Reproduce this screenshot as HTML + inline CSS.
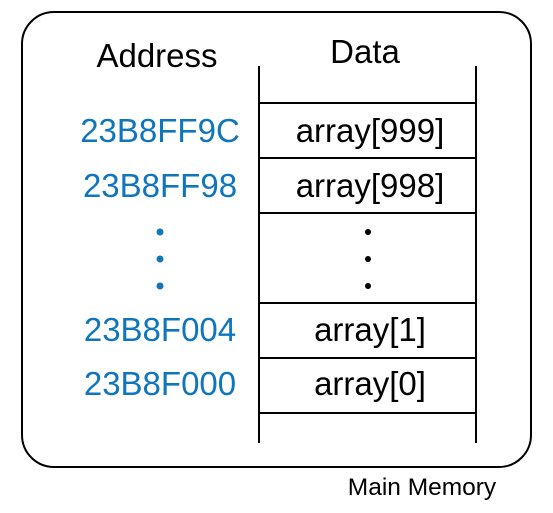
<!DOCTYPE html>
<html><head><style>body{margin:0;background:#fff}</style></head><body>
<svg width="553" height="508" xmlns="http://www.w3.org/2000/svg" font-family="Liberation Sans, Arial, sans-serif">
<rect x="22" y="12" width="509" height="455" rx="32" ry="32" fill="none" stroke="#000" stroke-width="2"/>
<g stroke="#000" stroke-width="2">
<line x1="259" y1="66" x2="259" y2="443"/>
<line x1="476" y1="66" x2="476" y2="443"/>
<line x1="259" y1="103" x2="476" y2="103"/>
<line x1="259" y1="158" x2="476" y2="158"/>
<line x1="259" y1="213" x2="476" y2="213"/>
<line x1="259" y1="303" x2="476" y2="303"/>
<line x1="259" y1="358" x2="476" y2="358"/>
<line x1="259" y1="413" x2="476" y2="413"/>
</g>
<text x="157" y="67" font-size="33" text-anchor="middle">Address</text>
<text x="365" y="63" font-size="33" text-anchor="middle">Data</text>
<g fill="#0f75bc" font-size="33" text-anchor="middle">
<text x="160" y="142">23B8FF9C</text>
<text x="160" y="197">23B8FF98</text>
<text x="160" y="341">23B8F004</text>
<text x="160" y="395">23B8F000</text>
<circle cx="160" cy="232" r="3.5"/><circle cx="160" cy="259" r="3.5"/><circle cx="160" cy="286" r="3.5"/>
</g>
<g font-size="33" text-anchor="middle">
<text x="370" y="142">array[999]</text>
<text x="370" y="197">array[998]</text>
<text x="370" y="341">array[1]</text>
<text x="370" y="395">array[0]</text>
<circle cx="368" cy="232" r="3"/><circle cx="368" cy="259" r="3"/><circle cx="368" cy="286" r="3"/>
</g>
<text x="422" y="495" font-size="24.5" text-anchor="middle">Main Memory</text>
</svg>
</body></html>
